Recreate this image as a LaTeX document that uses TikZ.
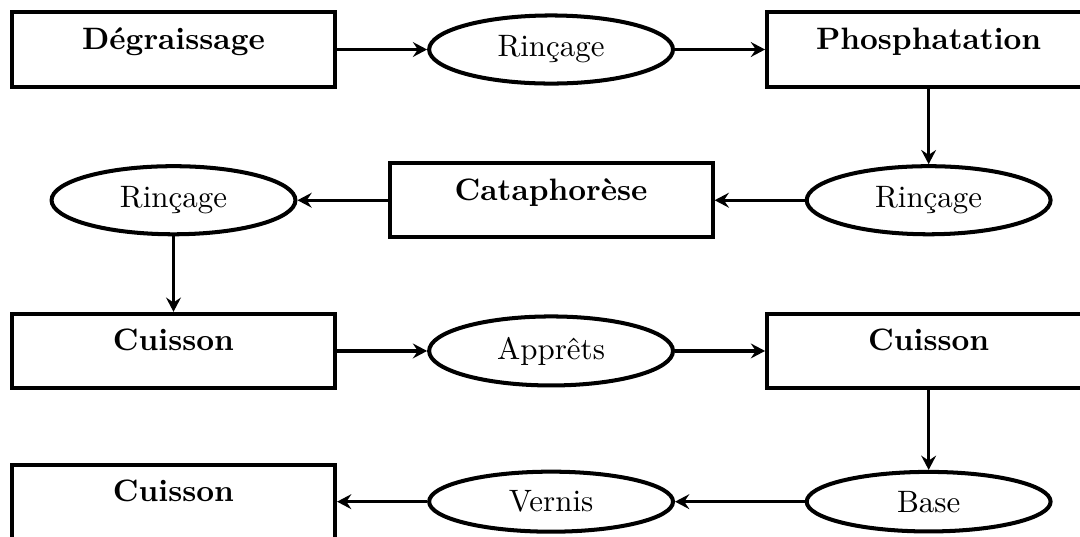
\documentclass[tikz,border=0pt]{standalone}
\usepackage{xcolor}
\usepackage{tikz}
\usetikzlibrary{shapes.geometric,positioning,arrows.meta}
\tikzstyle{stage} = [rectangle, minimum width=104.4pt, minimum height=24pt, text height=6.9pt, text depth=6.9pt, text centered, draw=black, line width=1.3pt, font=\bfseries]
\tikzstyle{bath} = [ellipse, minimum width=78.8pt, text centered, draw=black, line width=1.3pt]
\tikzstyle{flow} = [line width=1.05pt,-{Stealth[length=4.6pt,width=4.8pt,inset=1.6pt]}]

\begin{document}
\begin{tikzpicture}[on grid, node distance = 48.7pt and 122pt]

	\useasboundingbox (-56.06pt,16pt) rectangle (292.9pt,-157.5pt);
	\clip (-56.06pt,16pt) rectangle (292.9pt,-157.5pt);

	\node (degr) [stage] {Dégraissage};
	\node (rinc1) [bath,right=of degr] {Rinçage};
	\node (phos) [stage,right=of rinc1] {Phosphatation};
	\node (rinc2) [bath,below=of phos] {Rinçage};
	\node (cata) [stage,left=of rinc2] {Cataphorèse};
	\node (rinc3) [bath,left=of cata] {Rinçage};
	\node (cuis1) [stage,below=of rinc3] {Cuisson};
	\node (appr) [bath,right=of cuis1] {Apprêts};
	\node (cuis2) [stage,right=of appr] {Cuisson};
	\node (base) [bath,below=of cuis2] {Base};
	\node (vern) [bath,left=of base] {Vernis};
	\node (cuis3) [stage,left=of vern] {Cuisson};

	\draw [flow] (degr) -- (rinc1);
	\draw [flow] (rinc1) -- (phos);
	\draw [flow] (phos) -- (rinc2);
	\draw [flow] (rinc2) -- (cata);
	\draw [flow] (cata) -- (rinc3);
	\draw [flow] (rinc3) -- (cuis1);
	\draw [flow] (cuis1) -- (appr);
	\draw [flow] (appr) -- (cuis2);
	\draw [flow] (cuis2) -- (base);
	\draw [flow] (base) -- (vern);
	\draw [flow] (vern) -- (cuis3);

\end{tikzpicture}
\end{document}
